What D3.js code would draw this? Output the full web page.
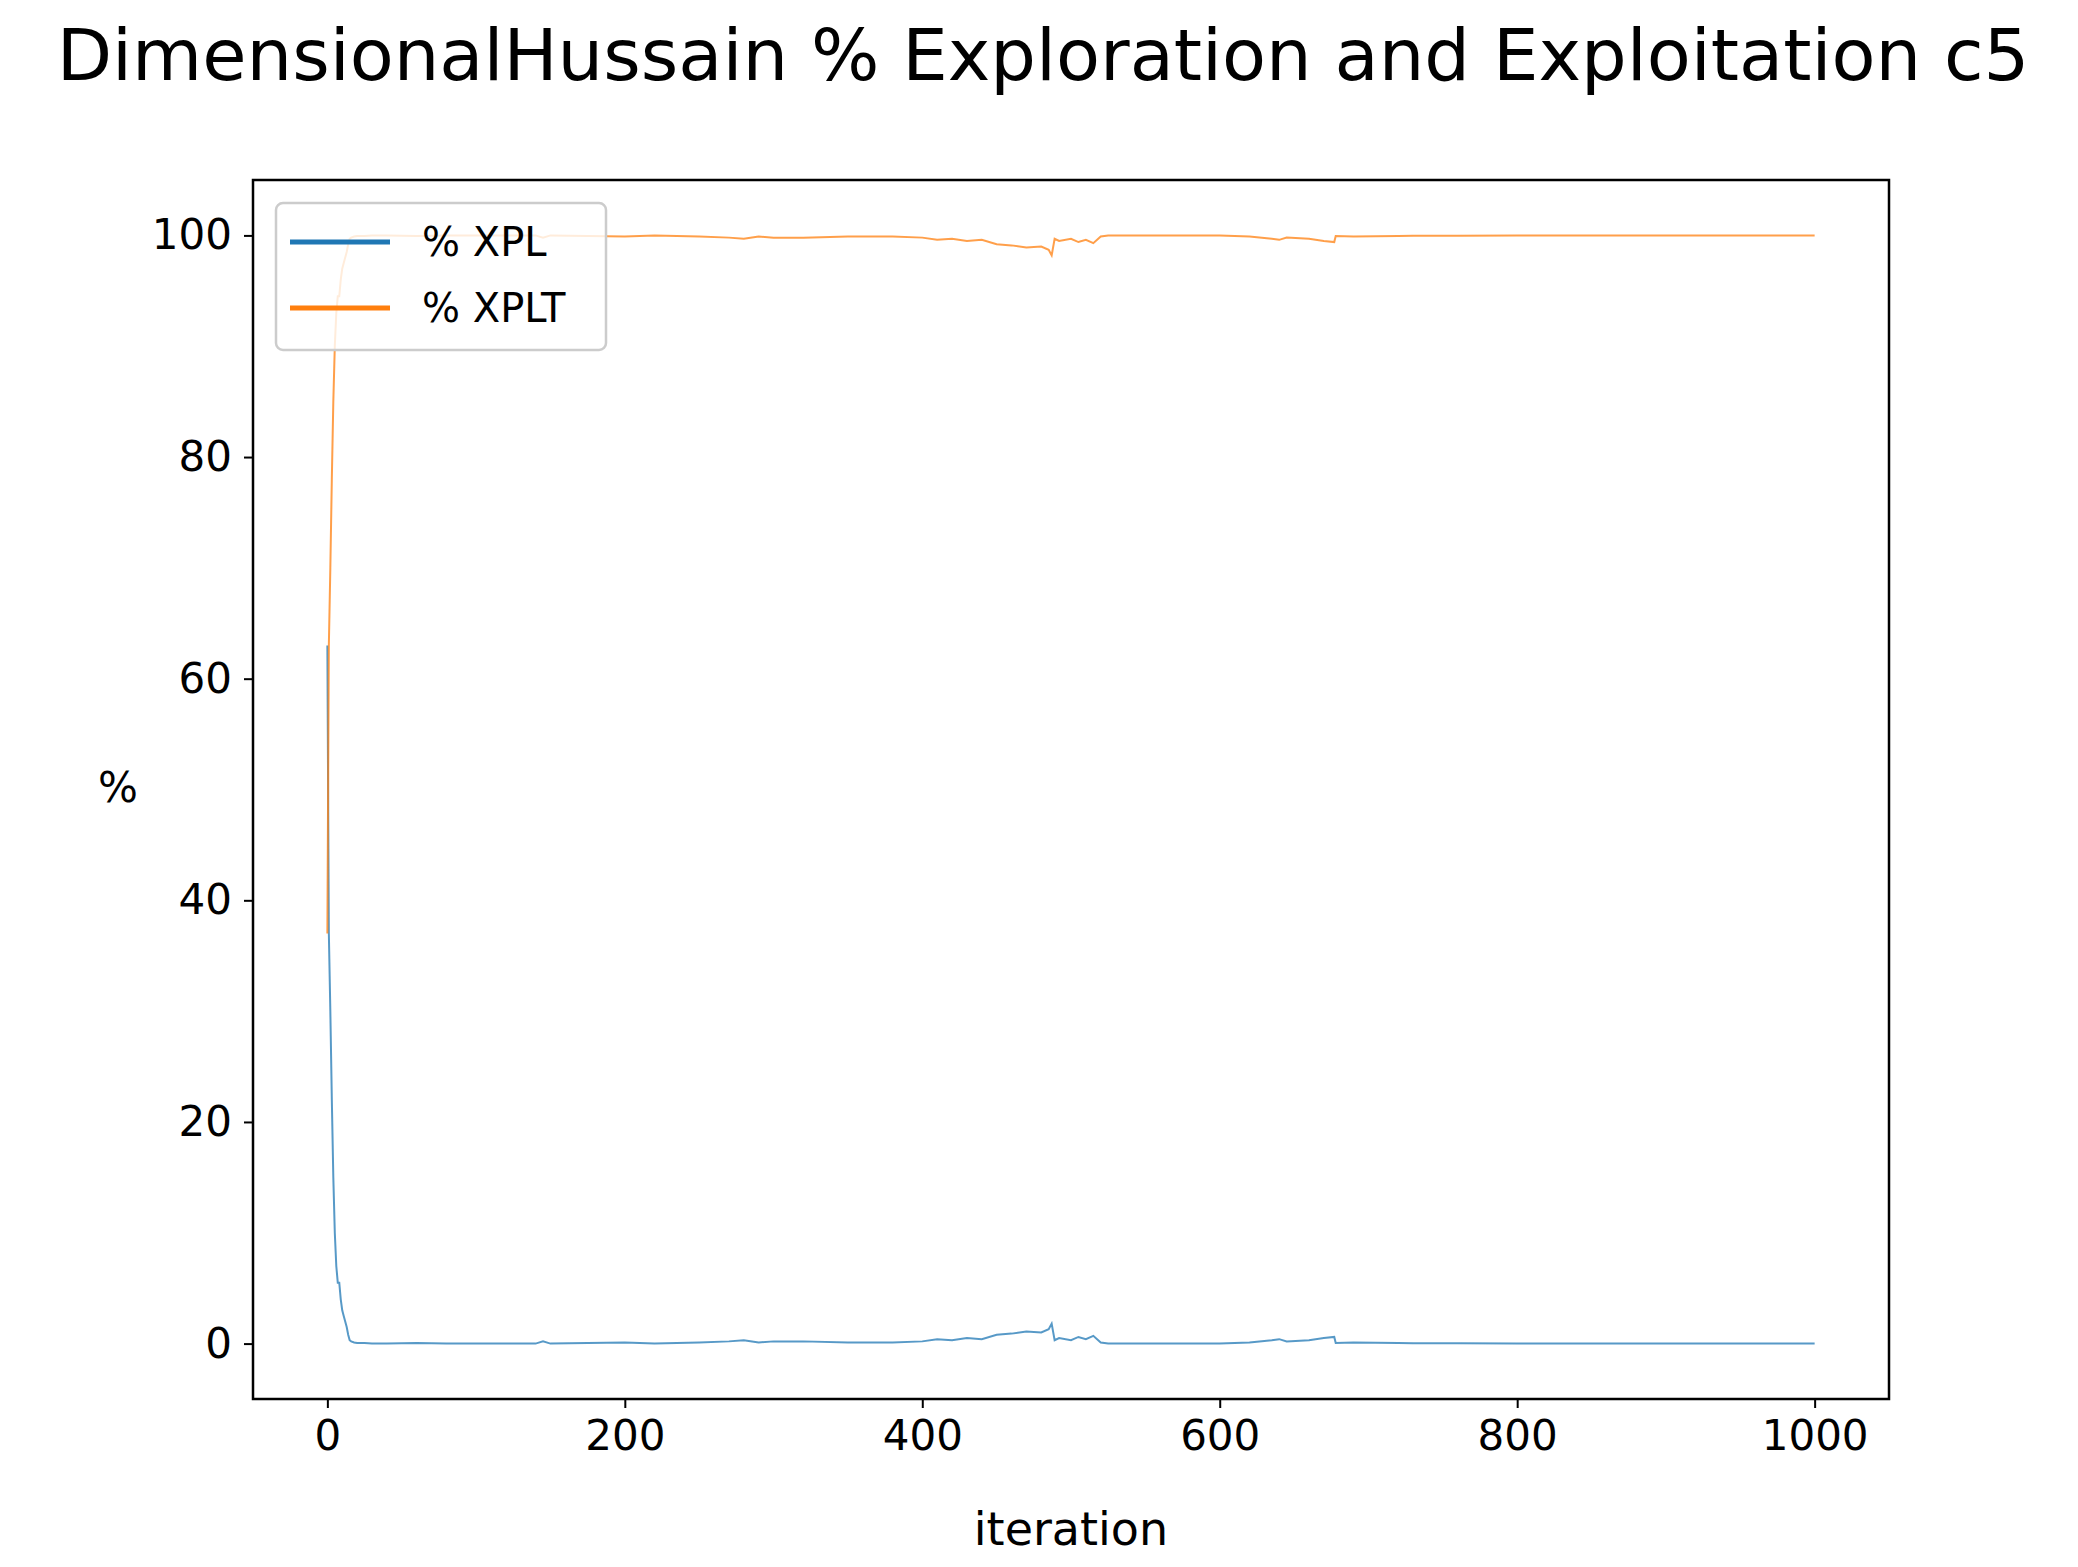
<!DOCTYPE html>
<html><head><meta charset="utf-8">
<script src="https://cdn.jsdelivr.net/npm/d3@7"></script>
<style>body{margin:0;background:#fff}text{font-family:"DejaVu Sans",sans-serif}</style>
</head><body><svg id="chart" width="2078" height="1567"></svg>
<script>
// iteration / % XPL; % XPLT is the complement
var iterations = [0,1,2,3,4,5,6,7,8,9,10,11,12,13,14,15,16,18,20,25,30,40,60,80,100,140,145,150,200,220,250,270,280,290,300,320,350,380,400,410,420,430,440,450,460,470,480,485,487,489,492,500,505,510,515,520,525,560,600,620,635,640,645,660,670,677,678,690,720,730,760,800,1000];
var xpl = [63,37,30,22,15,10,7,5.5,5.5,4,3,2.5,2,1.5,0.8,0.3,0.2,0.1,0.05,0.05,0,0,0.05,0,0,0,0.2,0,0.1,0,0.1,0.2,0.3,0.1,0.2,0.2,0.1,0.1,0.2,0.4,0.3,0.5,0.4,0.8,0.9,1.1,1.0,1.3,1.8,0.3,0.5,0.3,0.6,0.4,0.7,0.1,0,0,0,0.1,0.3,0.4,0.2,0.3,0.5,0.6,0.05,0.1,0.05,0.02,0.02,0,0];
var xplt = xpl.map(function(v){ return 100-v; });
var yTicks = [0,20,40,60,80,100];
var xTicks = [0,200,400,600,800,1000];

var svg = d3.select("#chart");
var L=253,R=1889,T=180,B=1399;
var x = d3.scaleLinear().domain([-50,1050]).range([L,R]);
var y = d3.scaleLinear().domain([-5,105]).range([B,T]);

svg.append("text").attr("x",1043).attr("y",80).attr("text-anchor","middle")
  .style("font-size","72px").text("DimensionalHussain % Exploration and Exploitation c5");

var xa = svg.append("g").attr("transform","translate(0,"+B+")")
  .call(d3.axisBottom(x).tickValues(xTicks).tickSize(9).tickPadding(12).tickFormat(d3.format("d")));
var ya = svg.append("g").attr("transform","translate("+L+",0)")
  .call(d3.axisLeft(y).tickValues(yTicks).tickSize(9).tickPadding(12).tickFormat(d3.format("d")));
[xa,ya].forEach(function(a){
  a.select(".domain").remove();
  a.selectAll("line").attr("stroke","#000").attr("stroke-width",2);
  a.selectAll("text").style("font-size","42px").attr("fill","#000");
});

var line = d3.line().x(function(d){return x(d[0]);}).y(function(d){return y(d[1]);});
var series = [{name:"% XPL",vals:xpl,color:"#1f77b4"},{name:"% XPLT",vals:xplt,color:"#ff7f0e"}];
series.forEach(function(s){
  svg.append("path").datum(iterations.map(function(it,i){return [it,s.vals[i]];}))
    .attr("d",line).attr("fill","none").attr("stroke",s.color)
    .attr("stroke-width",2).attr("stroke-opacity",0.75);
});

svg.append("rect").attr("x",L).attr("y",T).attr("width",R-L).attr("height",B-T)
  .attr("fill","none").attr("stroke","#000").attr("stroke-width",2.5);

svg.append("text").attr("x",(L+R)/2).attr("y",1545).attr("text-anchor","middle")
  .style("font-size","46px").text("iteration");
svg.append("text").attr("x",118).attr("y",802).attr("text-anchor","middle")
  .style("font-size","42px").text("%");

var lg = svg.append("g");
lg.append("rect").attr("x",276).attr("y",203).attr("width",330).attr("height",147).attr("rx",7)
  .attr("fill","#fff").attr("fill-opacity",0.8).attr("stroke","#ccc").attr("stroke-width",2.5);
series.forEach(function(s,i){
  var yy = 242+i*66;
  lg.append("line").attr("x1",290).attr("x2",390).attr("y1",yy).attr("y2",yy)
    .attr("stroke",s.color).attr("stroke-width",5);
  lg.append("text").attr("x",422).attr("y",yy+14).style("font-size","40px").text(s.name);
});
</script></body></html>
